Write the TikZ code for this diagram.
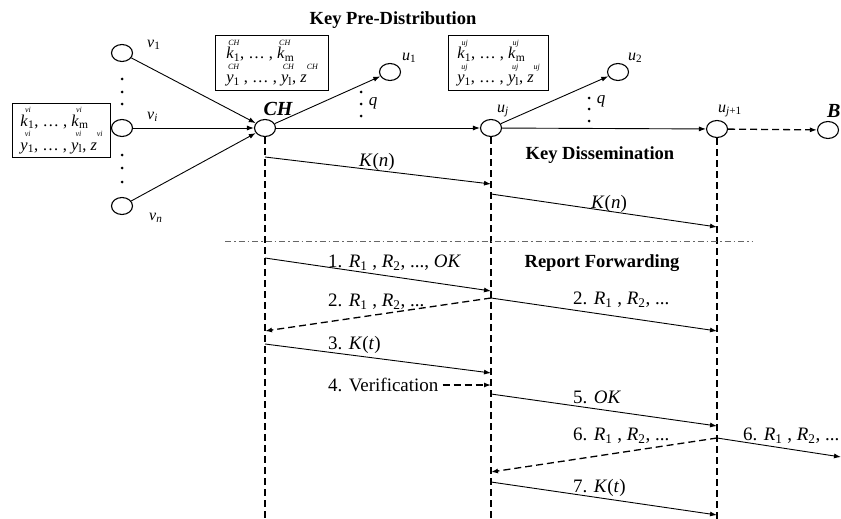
\documentclass[tikz,border=0pt]{standalone}
\usepackage{fontspec}
\setmainfont{Liberation Serif}
\usetikzlibrary{arrows.meta,shapes.geometric}
\newcommand{\supf}{\fontsize{8}{8}\selectfont\itshape}
\newcommand{\sk}[3]{\textit{#1}\makebox[0pt][c]{\raisebox{0.8em}{\supf #2}}\textsubscript{#3}}
\newcommand{\zsup}[1]{\textit{z}\raisebox{0.8em}{\supf #1}}
\begin{document}
\begin{tikzpicture}[x=1pt,y=-1pt,
  nd/.style={draw, ellipse, minimum width=21pt, minimum height=17pt, inner sep=0pt, line width=1.1pt},
  lab/.style={font=\fontsize{19}{22}\selectfont, inner sep=0pt, anchor=west},
  nlab/.style={font=\fontsize{16}{18}\selectfont\itshape, inner sep=0pt, anchor=west},
  hd/.style={font=\fontsize{18.5}{22}\selectfont\bfseries, inner sep=0pt},
  arr/.style={-{Latex[length=7pt,width=5pt]}, line width=0.9pt},
  darr/.style={-{Latex[length=7pt,width=5pt]}, line width=1.3pt, dash pattern=on 7pt off 4pt},
  life/.style={line width=1.6pt, dash pattern=on 7pt off 4pt},
  sepl/.style={line width=1pt, black!60, dash pattern=on 6pt off 3pt on 1.5pt off 3pt},
  keybox/.style={draw, line width=1.2pt, rectangle, anchor=north west, align=left, inner sep=0pt, font=\fontsize{16.5}{24}\selectfont},
  dotn/.style={circle, fill, inner sep=0pt, minimum size=3pt}]
\useasboundingbox (0,0) rectangle (841,519);

% headings
\node[hd] (hpre) at (393,20) {Key Pre-Distribution};
\node[hd] (hdis) at (600,155) {Key Dissemination};
\node[hd] (hrep) at (602,263) {Report Forwarding};

% key boxes
\node[keybox, minimum width=98pt, minimum height=54pt] (bv) at (12,103)
  {\sk{k}{vi}{1}, \ldots\ , \sk{k}{vi}{m}\\ \sk{y}{vi}{1}, \ldots\ , \sk{y}{vi}{l}, \zsup{vi}};
\node[keybox, minimum width=113pt, minimum height=55pt] (bch) at (215,35)
  {\sk{k}{CH}{1}, \ldots\ , \sk{k}{CH}{m}\\ \sk{y}{CH}{1} , \ldots\ , \sk{y}{CH}{l}, \zsup{CH}};
\node[keybox, minimum width=100pt, minimum height=55pt] (buj) at (448,35)
  {\sk{k}{uj}{1}, \ldots\ , \sk{k}{uj}{m}\\ \sk{y}{uj}{1}, \ldots\ , \sk{y}{uj}{l}, \zsup{uj}};

% sensor nodes
\node[nd] (v1) at (122,53) {};
\node[nd] (vi) at (122,128) {};
\node[nd] (vn) at (122,206) {};
\node[nd] (CH) at (265,128) {};
\node[nd] (u1) at (390,72) {};
\node[nd] (uj) at (491,128) {};
\node[nd] (u2) at (618,72) {};
\node[nd] (uj1) at (717,129) {};
\node[nd] (B) at (828,130) {};

% node labels
\node[nlab] (lv1) at (147,45) {v\textsubscript{\upshape 1}};
\node[nlab] (lvi) at (147,117) {v\textsubscript{i}};
\node[nlab] (lvn) at (149,218) {v\textsubscript{n}};
\node[font=\fontsize{20}{22}\selectfont\bfseries\itshape, inner sep=0pt] (lch) at (278,109) {CH};
\node[nlab] (lu1) at (402,58) {u\textsubscript{\upshape 1}};
\node[nlab] (lu2) at (628,58) {u\textsubscript{\upshape 2}};
\node[nlab] (luj) at (497,111) {u\textsubscript{j}};
\node[nlab] (luj1) at (718,111) {u\textsubscript{j\upshape +1}};
\node[font=\fontsize{20}{22}\selectfont\bfseries\itshape, inner sep=0pt, anchor=west] (lB) at (827,111) {B};

% vertical dots
\node[dotn] (d1) at (122,79) {};
\node[dotn] (d2) at (122,92) {};
\node[dotn] (d3) at (122,104) {};
\node[dotn] (d4) at (122,155) {};
\node[dotn] (d5) at (122,168) {};
\node[dotn] (d6) at (122,182) {};
\node[dotn] (d7) at (361,92) {};
\node[dotn] (d8) at (361,104) {};
\node[dotn] (d9) at (361,116) {};
\node[dotn] (d10) at (589,98) {};
\node[dotn] (d11) at (589,109) {};
\node[dotn] (d12) at (589,121) {};
\node[font=\fontsize{17}{18}\selectfont\itshape, inner sep=0pt] (q1) at (373,103) {q};
\node[font=\fontsize{17}{18}\selectfont\itshape, inner sep=0pt] (q2) at (601,101) {q};

% topology edges
\draw[arr] (v1) -- (CH);
\draw[arr] (vi) -- (CH);
\draw[arr] (vn) -- (CH);
\draw[arr] (CH) -- (u1);
\draw[arr] (CH) -- (uj);
\draw[arr] (uj) -- (u2);
\draw[arr] (uj) -- (uj1);
\draw[darr] (uj1) -- (B);

% lifelines
\coordinate (CHb) at (265,519);
\coordinate (ujb) at (491,519);
\coordinate (uj1b) at (717,519);
\draw[life] (CH.south) -- (CHb);
\draw[life] (uj.south) -- (ujb);
\draw[life] (uj1.south) -- (uj1b);

% separator
\coordinate (sa) at (225,241);
\coordinate (sb) at (753,241);
\draw[sepl] (sa) -- (sb);

% message points
\coordinate (k1s) at (265,157); \coordinate (k1e) at (491,184);
\coordinate (k2s) at (491,194); \coordinate (k2e) at (717,227);
\coordinate (m1s) at (265,258); \coordinate (m1e) at (491,291);
\coordinate (m2s) at (491,298); \coordinate (m2e) at (265,331);
\coordinate (m2f) at (717,331);
\coordinate (m3s) at (265,344); \coordinate (m3e) at (491,373);
\coordinate (m4e) at (491,385);
\coordinate (m5s) at (491,394); \coordinate (m5e) at (717,426);
\coordinate (m6s) at (717,438); \coordinate (m6e) at (491,472);
\coordinate (m6f) at (841,457);
\coordinate (m7s) at (491,482); \coordinate (m7e) at (717,515);

\draw[arr] (k1s) -- (k1e);
\draw[arr] (k2s) -- (k2e);
\draw[arr] (m1s) -- (m1e);
\draw[darr] (m2s) -- (m2e);
\draw[arr] (m2s) -- (m2f);
\draw[arr] (m3s) -- (m3e);
\draw[arr] (m5s) -- (m5e);
\draw[darr] (m6s) -- (m6e);
\draw[arr] (m6s) -- (m6f);
\draw[arr] (m7s) -- (m7e);

% message labels
\node[lab, anchor=center] (tk1) at (377,162) {\textit{K}(\textit{n})};
\node[lab, anchor=center] (tk2) at (609,204) {\textit{K}(\textit{n})};
\node[lab] (t1) at (328,263) {1. \textit{R}\textsubscript{1} , \textit{R}\textsubscript{2}, ..., \textit{OK}};
\node[lab] (t2) at (328,302) {2. \textit{R}\textsubscript{1} , \textit{R}\textsubscript{2}, ...};
\node[lab] (t2b) at (573,300) {2. \textit{R}\textsubscript{1} , \textit{R}\textsubscript{2}, ...};
\node[lab] (t3) at (328,345) {3. \textit{K}(\textit{t})};
\node[lab] (t4) at (328,385) {4. Verification};
\coordinate (m4s) at ([xshift=4pt]t4.east);
\draw[darr] (m4s) -- (m4e);
\node[lab] (t5) at (573,397) {5. \textit{OK}};
\node[lab] (t6) at (573,436) {6. \textit{R}\textsubscript{1} , \textit{R}\textsubscript{2}, ...};
\node[lab] (t6b) at (743,436) {6. \textit{R}\textsubscript{1} , \textit{R}\textsubscript{2}, ...};
\node[lab] (t7) at (573,488) {7. \textit{K}(\textit{t})};
\end{tikzpicture}
\end{document}
